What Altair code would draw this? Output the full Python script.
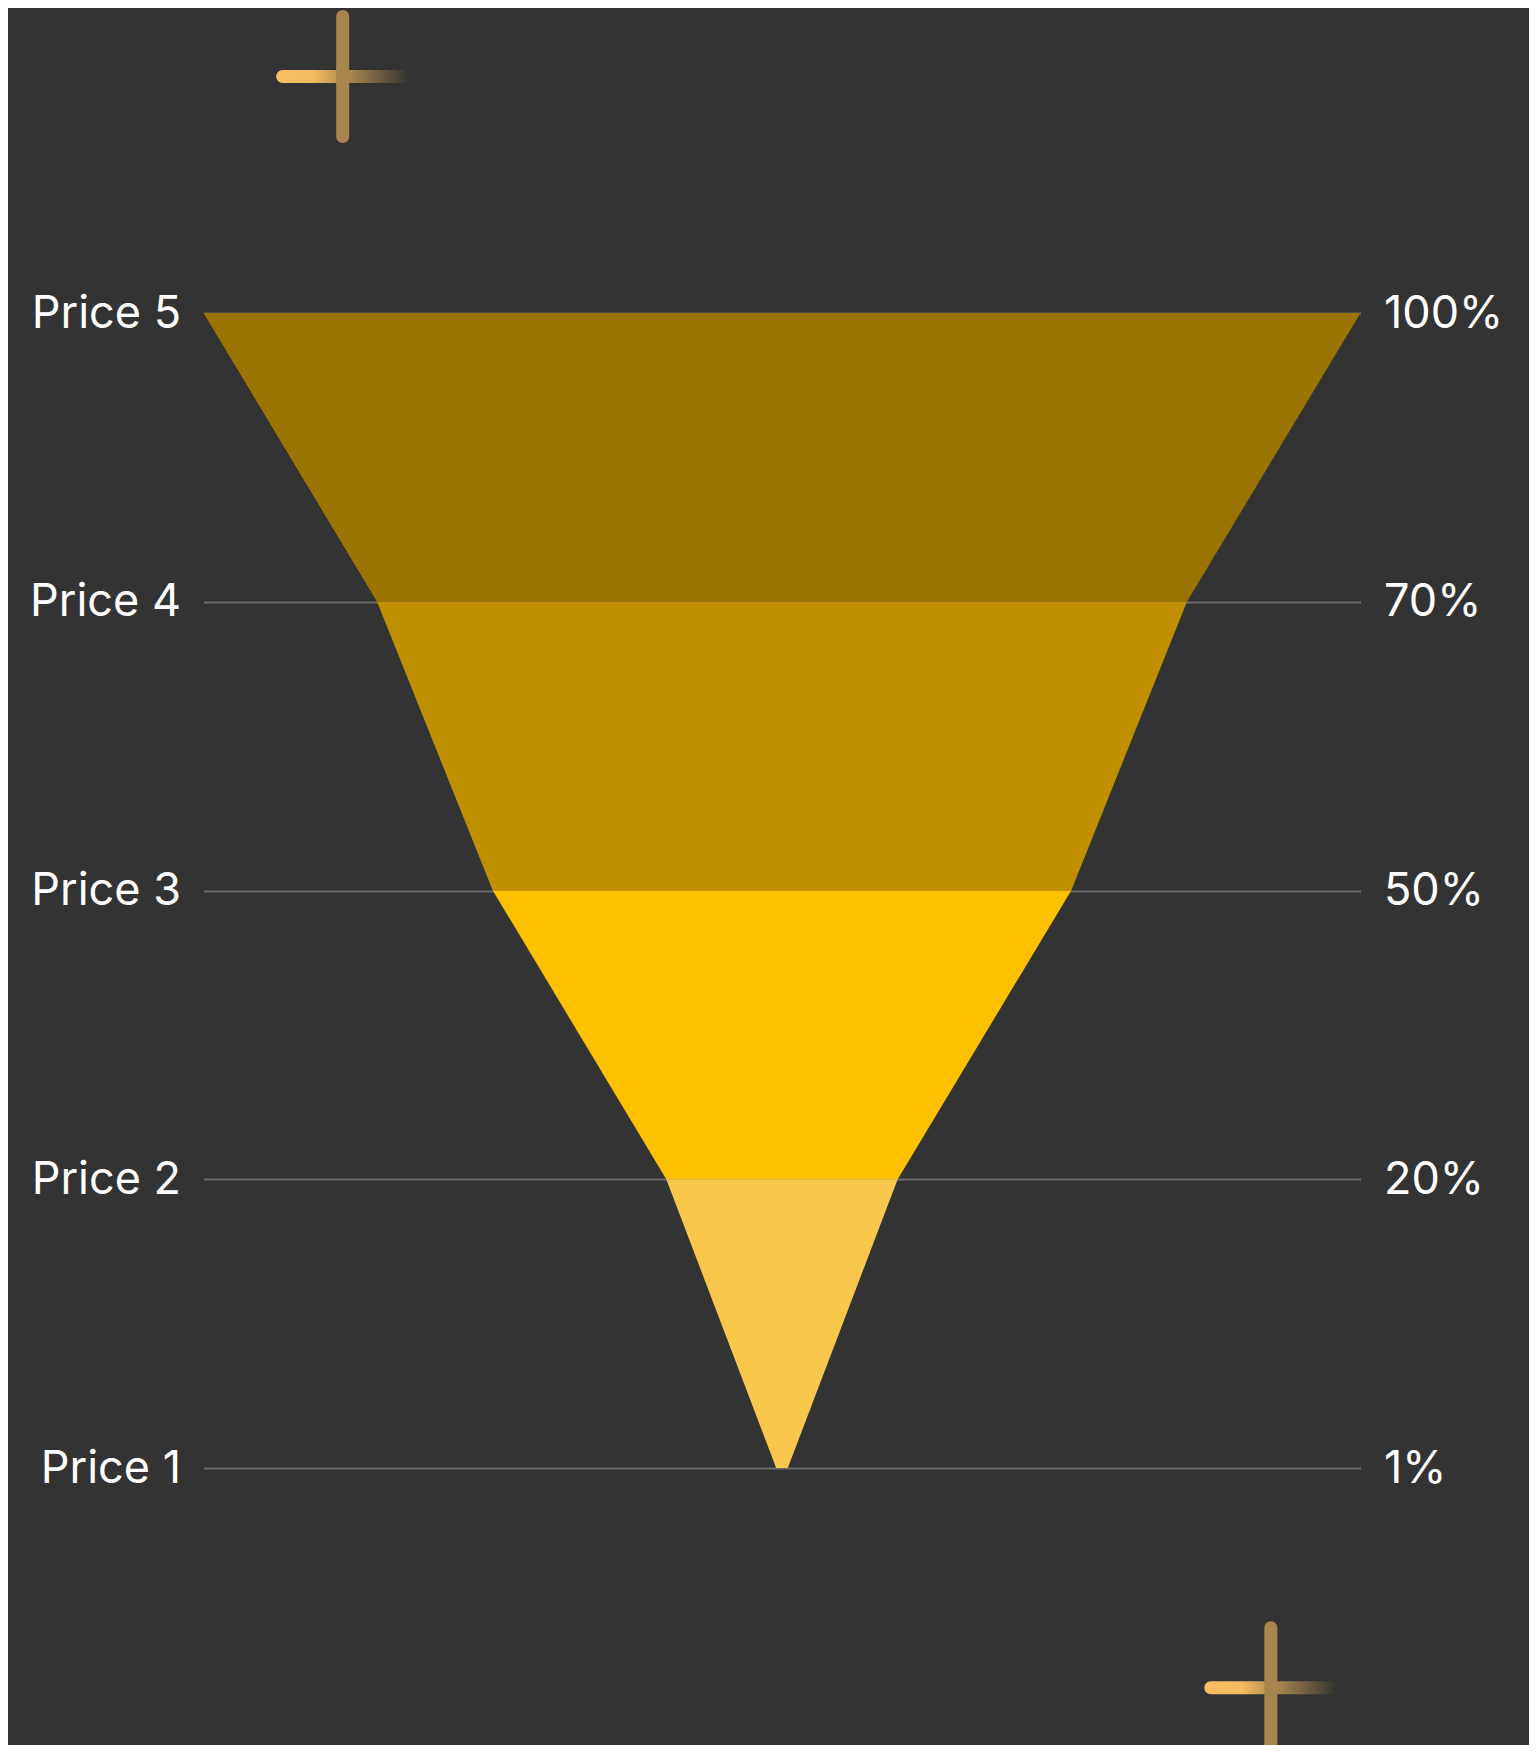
import altair as alt
import pandas as pd

# ---- data -------------------------------------------------------------
labels = ["Price 5", "Price 4", "Price 3", "Price 2", "Price 1"]
levels = [5, 4, 3, 2, 1]
shares = [100, 70, 50, 20, 1]
pct_labels = ["100%", "70%", "50%", "20%", "1%"]
band_names = ["Price 5-4", "Price 4-3", "Price 3-2", "Price 2-1"]
band_colors = ["#9A7400", "#BF8F00", "#FFC000", "#F9C74B"]

# decorative "+" marks, centres in data units (x: share axis, y: level axis)
cross_x = [-37.97, 42.25]
cross_y = [5.819, 0.2386]

# ---- tables -------------------------------------------------------------
rows = []
for i, name in enumerate(band_names):
    for j in (i, i + 1):
        rows.append({"band": name, "level": levels[j],
                     "lo": -shares[j] / 2, "hi": shares[j] / 2})
funnel_df = pd.DataFrame(rows)
levels_df = pd.DataFrame({"level": levels, "label": labels, "pct": pct_labels})

W, H = 1157, 1155
XU = W / 100.0            # px per x unit
YU = H / 4.0              # px per y unit
half_len, thick = 66.5, 13.0

h_arms = pd.DataFrame({
    "x1": [cx - half_len / XU for cx in cross_x],
    "x2": [cx + half_len / XU for cx in cross_x],
    "y1": [cy - thick / 2 / YU for cy in cross_y],
    "y2": [cy + thick / 2 / YU for cy in cross_y],
})
v_arms = pd.DataFrame({
    "x1": [cx - thick / 2 / XU for cx in cross_x],
    "x2": [cx + thick / 2 / XU for cx in cross_x],
    "y1": [cy - half_len / YU for cy in cross_y],
    "y2": [cy + half_len / YU for cy in cross_y],
})

def ternary(values, texts):
    expr = "''"
    for v, t in zip(values, texts):
        expr = f"datum.value == {v} ? '{t}' : ({expr})"
    return expr

xscale = alt.Scale(domain=[-50, 50], nice=False, zero=False)
yscale = alt.Scale(domain=[1, 5], nice=False, zero=False)

FONT = "Inter"
label_style = dict(labelFont=FONT, labelFontSize=45, labelColor="#FFFFFF",
                   domain=False, ticks=False, tickSize=0, labelPadding=23,
                   title=None, values=levels)

funnel = alt.Chart(funnel_df).mark_area(orient="horizontal").encode(
    y=alt.Y("level:Q", scale=yscale,
            axis=alt.Axis(orient="left", labelExpr=ternary(levels, labels),
                          grid=True, gridColor="#6B6B6B", gridWidth=2,
                          **label_style)),
    x=alt.X("lo:Q", scale=xscale, axis=None),
    x2="hi:Q",
    color=alt.Color("band:N", scale=alt.Scale(domain=band_names, range=band_colors),
                    legend=None),
)

right_axis = alt.Chart(levels_df).mark_point(opacity=0).encode(
    y=alt.Y("level:Q", scale=yscale,
            axis=alt.Axis(orient="right", labelExpr=ternary(levels, pct_labels),
                          grid=False, **label_style)),
    x=alt.value(0),
)

grad = alt.Gradient(
    gradient="linear", x1=0, x2=1, y1=0, y2=0,
    stops=[alt.GradientStop(color="#F7BF62", offset=0),
           alt.GradientStop(color="#F2BB5F", offset=0.28),
           alt.GradientStop(color="#A9864F", offset=0.55),
           alt.GradientStop(color="#333333", offset=1)],
)

h_layer = alt.Chart(h_arms).mark_rect(fill=grad, cornerRadius=6.5, clip=False).encode(
    x=alt.X("x1:Q", scale=xscale, axis=None), x2="x2:Q",
    y=alt.Y("y1:Q", scale=yscale, axis=None), y2="y2:Q",
)
v_layer = alt.Chart(v_arms).mark_rect(fill="#A8854F", cornerRadius=6.5, clip=False).encode(
    x=alt.X("x1:Q", scale=xscale, axis=None), x2="x2:Q",
    y=alt.Y("y1:Q", scale=yscale, axis=None), y2="y2:Q",
)

chart = alt.layer(funnel, right_axis, h_layer, v_layer).resolve_axis(
    y="independent"
).properties(
    width=W, height=H,
    padding={"left": 195.5, "top": 305, "right": 168.5, "bottom": 277},
    autosize=alt.AutoSizeParams(type="none"),
    background="#333333",
).configure_view(stroke=None)

chart.save("out.html", embed_options={"renderer": "svg", "actions": False})
